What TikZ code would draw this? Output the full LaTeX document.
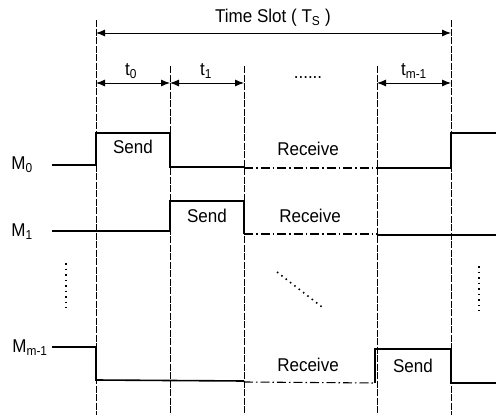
\documentclass[tikz,border=0pt]{standalone}
\usepackage{fontspec}
\setmainfont[FakeStretch=0.92]{Liberation Sans}
\usetikzlibrary{arrows.meta,positioning,calc}

\begin{document}
\begin{tikzpicture}[
    x=1pt, y=-1pt,
    lbl/.style={font=\fontsize{18.5}{20}\selectfont, inner sep=1pt},
    signal/.style={line width=1.6pt},
    idle/.style={line width=1.1pt, dash pattern=on 9pt off 3pt on 1.5pt off 3pt},
    gridline/.style={line width=0.5pt, dash pattern=on 7pt off 1.5pt},
    span/.style={{Latex[length=9pt,width=7pt]}-{Latex[length=9pt,width=7pt]}, line width=0.9pt},
    dots/.style={line width=1.6pt, dash pattern=on 1.5pt off 4pt}
]
\useasboundingbox (0,0) rectangle (496,415);

% slot boundaries
\foreach \x [count=\i from 0] in {96,170,244,377,451} {
  \coordinate (top\i) at (\x,33);
  \coordinate (mid\i) at (\x,83);
  \coordinate (bot\i) at (\x,415);
}
\draw[gridline] (96,20) -- (bot0);
\draw[gridline] (170,66) -- (bot1);
\draw[gridline] (244,66) -- (bot2);
\draw[gridline] (377,66) -- (bot3);
\draw[gridline] (451,20) -- (bot4);

% time slot
\node[lbl] (ts) at (273,18) {Time Slot ( T\textsubscript{S} )};
\draw[span] (top0) -- (top4);

\node[lbl] (t0) at (131,71) {t\textsubscript{0}};
\node[lbl] (t1) at (206,71) {t\textsubscript{1}};
\node[lbl] (tm) at (414,71) {t\textsubscript{m-1}};
\node[lbl] (tdots) at (308,78) {......};
\draw[span] (mid0) -- (mid1);
\draw[span] (mid1) -- (mid2);
\draw[span] (mid3) -- (mid4);

% station M0
\node[lbl] (m0) at (22,165) {M\textsubscript{0}};
\draw[signal] (52,165) -- (96,165) -- (96,133) -- (170,133) -- (170,167) -- (244,167);
\draw[idle] (244,168) -- (377,168);
\draw[signal] (377,168) -- (451,168) -- (451,133) -- (496,133);
\node[lbl] (s0) at (133,147) {Send};
\node[lbl] (r0) at (308,149) {Receive};

% station M1
\node[lbl] (m1) at (22,232) {M\textsubscript{1}};
\draw[signal] (52,231) -- (170,231) -- (170,201) -- (244,201) -- (244,234);
\draw[idle] (244,234) -- (377,234);
\draw[signal] (377,235) -- (496,235);
\node[lbl] (s1) at (207,216) {Send};
\node[lbl] (r1) at (310,216) {Receive};

% dots
\draw[dots] (66,263) -- (66,308);
\draw[dots] (479,266) -- (479,311);
\draw[dots] (277,272) -- (322,307);

% station Mm-1
\node[lbl] (mm) at (30,348) {M\textsubscript{m-1}};
\draw[signal] (52,347) -- (96,347) -- (96,380) -- (244,381);
\draw[idle] (244,382) -- (375,383);
\draw[signal] (375,383) -- (375,349) -- (451,349) -- (451,383) -- (496,383);
\node[lbl] (rm) at (308,365) {Receive};
\node[lbl] (sm) at (413,366) {Send};
\end{tikzpicture}
\end{document}
